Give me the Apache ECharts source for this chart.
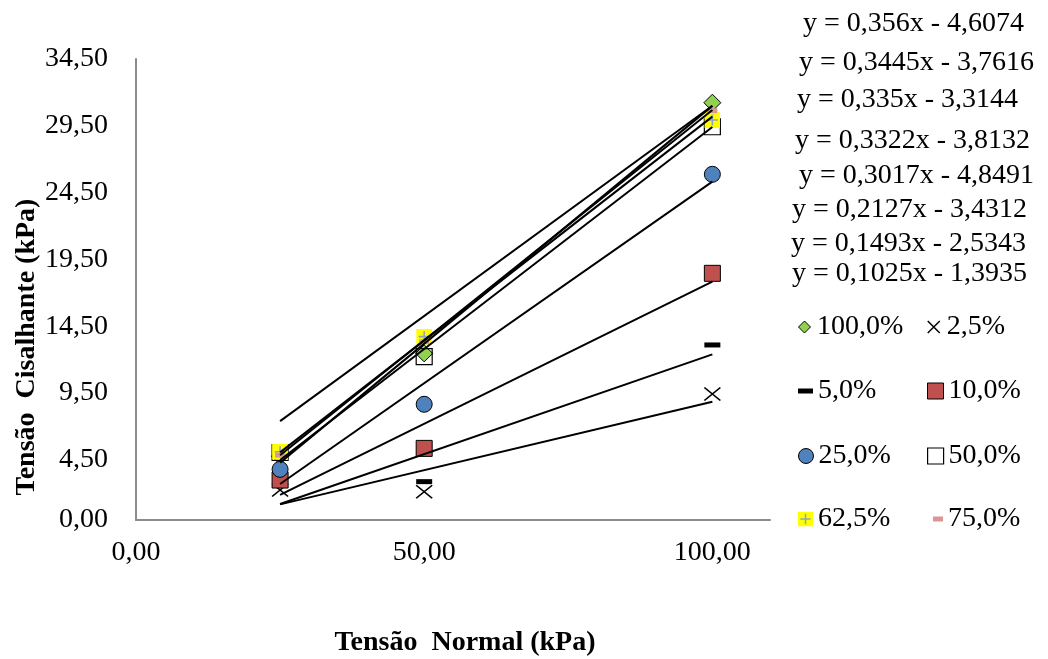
<!DOCTYPE html>
<html>
<head>
<meta charset="utf-8">
<script src="https://cdn.jsdelivr.net/npm/echarts@6/dist/echarts.min.js"></script>
<style>
  html, body { margin: 0; padding: 0; background: #fff; }
  #chart { width: 1048px; height: 659px; }
</style>
</head>
<body>
<div id="chart"></div>
<script>
// Soil shear test: shear stress vs normal stress per additive content
const seriesNames = ['100,0%', '2,5%', '5,0%', '10,0%', '25,0%', '50,0%', '62,5%', '75,0%'];
const normalStress = [25, 50, 100];

const shear100 = [4.78, 12.47, 31.23];
const shear2_5 = [2.25, 2.12, 9.43];
const shear5 = [2.60, 2.87, 13.10];
const shear10 = [2.99, 5.36, 18.46];
const shear25 = [3.79, 8.66, 25.87];
const shear50 = [5.05, 12.22, 29.43];
const shear62_5 = [5.11, 13.72, 29.93];
const shear75 = [4.86, 13.34, 30.63];

// linear trend lines y = a*x + b, same order as seriesNames
const trendSlope = [0.356, 0.1025, 0.1493, 0.2127, 0.3017, 0.3322, 0.335, 0.3445];
const trendIntercept = [-4.6074, -1.3935, -2.5343, -3.4312, -4.8491, -3.8132, -3.3144, -3.7616];
const trendRange = [25, 100];

// additional straight line drawn over the 100% group
const extraLine = [[25, 7.4], [100, 31.0]];

const yTicks = [0, 4.5, 9.5, 14.5, 19.5, 24.5, 29.5, 34.5];
const xTicks = [0, 50, 100];

const shearSets = [shear100, shear2_5, shear5, shear10, shear25, shear50, shear62_5, shear75];

const FONT = '"Liberation Serif", "Times New Roman", serif';
const fmtComma = v => String(v).replace('.', ',');
const fmt2 = v => v.toFixed(2).replace('.', ',');

const plusSvg = "<svg xmlns='http://www.w3.org/2000/svg' width='16' height='16' viewBox='0 0 16 16'>" +
  "<rect x='0' y='0' width='16' height='16' fill='#FFFF00'/>" +
  "<path d='M8 2.5V13.5M2.5 8H13.5' stroke='#8FA5BC' stroke-width='1.6' fill='none'/></svg>";
const plusIcon = 'image://data:image/svg+xml;charset=utf-8,' + encodeURIComponent(plusSvg);
const crossPath = 'path://M0,0L12,12M12,0L0,12';
const diamondPath = 'path://M5,0L10,5L5,10L0,5Z';

// marker look per series
const markers = [
  { symbol: 'diamond', size: [17, 17], style: { color: '#92D050', borderColor: '#000', borderWidth: 1 },
    icon: diamondPath, iw: 15, ih: 12 },
  { symbol: crossPath, size: [16, 13], style: { color: 'transparent', borderColor: '#000', borderWidth: 1.5 },
    icon: crossPath, iw: 16, ih: 12 },
  { symbol: 'rect', size: [16, 5], style: { color: '#000' },
    icon: 'rect', iw: 15, ih: 5 },
  { symbol: 'rect', size: [16, 16], style: { color: '#C0504D', borderColor: '#000', borderWidth: 1 },
    icon: 'rect', iw: 16, ih: 16 },
  { symbol: 'circle', size: [16, 16], style: { color: '#4F81BD', borderColor: '#000', borderWidth: 1 },
    icon: 'circle', iw: 15, ih: 15 },
  { symbol: 'rect', size: [16, 16], style: { color: 'rgba(255,255,255,0)', borderColor: '#000', borderWidth: 1.2 },
    icon: 'rect', iw: 16, ih: 16 },
  { symbol: plusIcon, size: [16, 16], style: {},
    icon: plusIcon, iw: 15, ih: 15 },
  { symbol: 'rect', size: [10, 5], style: { color: '#DA9694' },
    icon: 'rect', iw: 10, ih: 5 }
];

// legend placement (two columns, four rows)
const legendSpots = [
  [798, 328], [927, 328],
  [798, 392], [927, 392],
  [798, 457], [927, 457],
  [798, 520], [933, 520]
];

// trend equation labels, listed top to bottom
const eqOrder = [0, 7, 6, 5, 4, 3, 2, 1];
const eqSpots = [
  [803, 25], [799, 64], [797, 101], [795, 142],
  [799, 177], [792, 211], [791, 245], [792, 275]
];

const scatterSeries = seriesNames.map((name, i) => ({
  name: name,
  type: 'scatter',
  symbol: markers[i].symbol,
  symbolSize: markers[i].size,
  itemStyle: Object.assign({ opacity: 1 }, markers[i].style),
  data: normalStress.map((x, k) => [x, shearSets[i][k]]),
  z: 2,
  silent: true
}));

const trendSeries = seriesNames.map((name, i) => ({
  type: 'line',
  symbol: 'none',
  lineStyle: { color: '#000', width: 2 },
  data: trendRange.map(x => [x, trendSlope[i] * x + trendIntercept[i]]),
  z: 3,
  silent: true
}));

const extraSeries = {
  type: 'line',
  symbol: 'none',
  lineStyle: { color: '#000', width: 2 },
  data: extraLine,
  z: 3,
  silent: true
};

const legends = seriesNames.map((name, i) => ({
  left: legendSpots[i][0],
  top: legendSpots[i][1] - 15,
  padding: 0,
  itemWidth: markers[i].iw,
  itemHeight: markers[i].ih,
  selectedMode: false,
  textStyle: { fontFamily: FONT, fontSize: 28, color: '#000' },
  data: [{
    name: name,
    icon: markers[i].icon,
    itemStyle: Object.assign({ opacity: 1 }, markers[i].style)
  }]
}));

const eqTexts = eqOrder.map((si, r) => ({
  type: 'text',
  left: eqSpots[r][0],
  top: eqSpots[r][1] - 15,
  style: {
    text: 'y = ' + fmtComma(trendSlope[si]) + 'x - ' + fmtComma(-trendIntercept[si]),
    font: '28px ' + FONT,
    fill: '#000'
  }
}));

const chart = echarts.init(document.getElementById('chart'), null, { renderer: 'canvas' });
chart.setOption({
  backgroundColor: '#fff',
  animation: false,
  grid: { left: 136, right: 278, top: 59, bottom: 139, outerBoundsMode: 'none' },
  xAxis: {
    type: 'value',
    min: 0,
    max: 110,
    splitLine: { show: false },
    axisTick: { show: false },
    axisLine: { show: true, onZero: false, lineStyle: { color: '#8C8C8C', width: 2 } },
    axisLabel: {
      customValues: xTicks,
      formatter: v => fmt2(v),
      fontFamily: FONT, fontSize: 28, color: '#000', margin: 19
    }
  },
  yAxis: {
    type: 'value',
    min: 0,
    max: 34.5,
    splitLine: { show: false },
    axisTick: { show: false },
    axisLine: { show: true, lineStyle: { color: '#8C8C8C', width: 2 } },
    axisLabel: {
      customValues: yTicks,
      formatter: v => fmt2(v),
      fontFamily: FONT, fontSize: 28, color: '#000', margin: 28
    }
  },
  legend: legends,
  graphic: eqTexts.concat([
    {
      type: 'text',
      x: 27, y: 347,
      rotation: Math.PI / 2,
      style: {
        text: 'Tensão  Cisalhante (kPa)',
        font: 'bold 28px ' + FONT,
        fill: '#000',
        align: 'center',
        verticalAlign: 'middle'
      }
    },
    {
      type: 'text',
      x: 465, y: 643,
      style: {
        text: 'Tensão  Normal (kPa)',
        font: 'bold 28px ' + FONT,
        fill: '#000',
        align: 'center',
        verticalAlign: 'middle'
      }
    }
  ]),
  series: scatterSeries.concat(trendSeries, [extraSeries])
});
</script>
</body>
</html>
